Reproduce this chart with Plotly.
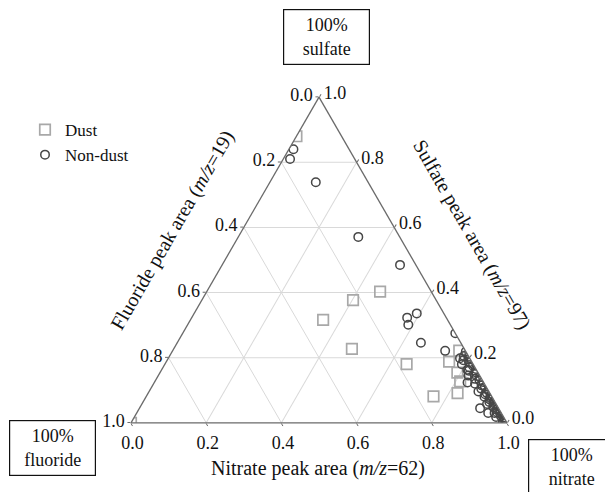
import plotly.graph_objects as go

# ---- data (fractions: sulfate = a, fluoride = b, nitrate = c) ----
dust_sulfate = [0.880, 0.000, 0.403, 0.377, 0.316, 0.227, 0.180, 0.188, 0.222, 0.154, 0.127, 0.081, 0.091]
dust_fluoride = [0.120, 1.000, 0.136, 0.221, 0.331, 0.299, 0.177, 0.060, 0.016, 0.055, 0.061, 0.155, 0.086]
dust_nitrate = [0.000, 0.000, 0.461, 0.402, 0.353, 0.474, 0.643, 0.752, 0.762, 0.791, 0.812, 0.764, 0.823]

nondust_sulfate = [0.840, 0.810, 0.739, 0.571, 0.485, 0.336, 0.323, 0.301, 0.246, 0.275, 0.221, 0.219,
                   0.198, 0.203, 0.163, 0.124, 0.045, 0.030,
                   0.205, 0.198, 0.192, 0.186, 0.180, 0.175, 0.170, 0.165, 0.160, 0.155, 0.150, 0.145,
                   0.140, 0.135, 0.130, 0.125, 0.120, 0.115, 0.110, 0.105, 0.100, 0.096, 0.092, 0.088,
                   0.084, 0.080, 0.076, 0.072, 0.068, 0.064, 0.060, 0.056, 0.052, 0.048, 0.044, 0.040,
                   0.036, 0.032, 0.028, 0.024, 0.020, 0.016, 0.012, 0.008, 0.004, 0.000, 0.002, 0.018,
                   0.030, 0.058]
nondust_fluoride = [0.148, 0.172, 0.139, 0.110, 0.042, 0.072, 0.104, 0.112, 0.106, 0.000, 0.054, 0.000,
                    0.026, 0.000, 0.024, 0.043, 0.049, 0.035,
                    0.012, 0.000, 0.020, 0.008, 0.030, 0.003, 0.015, 0.000, 0.022, 0.006, 0.012, 0.030,
                    0.002, 0.018, 0.008, 0.000, 0.025, 0.010, 0.004, 0.016, 0.000, 0.028, 0.008, 0.014,
                    0.002, 0.020, 0.006, 0.010, 0.000, 0.015, 0.004, 0.008, 0.000, 0.012, 0.003, 0.007,
                    0.000, 0.010, 0.004, 0.000, 0.006, 0.002, 0.000, 0.004, 0.000, 0.002, 0.010, 0.020,
                    0.018, 0.024]
nondust_nitrate = [0.012, 0.018, 0.122, 0.319, 0.473, 0.592, 0.573, 0.587, 0.648, 0.725, 0.725, 0.781,
                   0.776, 0.797, 0.813, 0.833, 0.906, 0.935,
                   0.783, 0.802, 0.788, 0.806, 0.790, 0.822, 0.815, 0.835, 0.818, 0.839, 0.838, 0.825,
                   0.858, 0.847, 0.862, 0.875, 0.855, 0.875, 0.886, 0.879, 0.900, 0.876, 0.900, 0.898,
                   0.914, 0.900, 0.918, 0.918, 0.932, 0.921, 0.936, 0.936, 0.948, 0.940, 0.953, 0.953,
                   0.964, 0.958, 0.968, 0.976, 0.974, 0.982, 0.988, 0.988, 0.996, 0.998, 0.988, 0.962,
                   0.952, 0.918]

tick_vals = [0.0, 0.2, 0.4, 0.6, 0.8, 1.0]
tick_text_rev = ["1.0", "0.8", "0.6", "0.4", "0.2", "0.0"]

FONT = "Liberation Serif"
AX_COLOR = "#6a6a6a"
GRID_COLOR = "#d9d9d9"

fig = go.Figure()
fig.add_trace(go.Scatterternary(
    a=dust_sulfate, b=dust_fluoride, c=dust_nitrate,
    mode="markers", name="Dust",
    marker=dict(symbol="square-open", size=10.5, color="#a8a8a8", line=dict(width=1.7)),
))
fig.add_trace(go.Scatterternary(
    a=nondust_sulfate, b=nondust_fluoride, c=nondust_nitrate,
    mode="markers", name="Non-dust",
    marker=dict(symbol="circle-open", size=8.5, color="#474747", line=dict(width=1.5)),
))

axis_common = dict(
    tickmode="array", tickvals=tick_vals, ticktext=tick_text_rev,
    ticks="outside", ticklen=3, tickcolor=AX_COLOR,
    linecolor=AX_COLOR, linewidth=1.3, showline=True,
    gridcolor=GRID_COLOR, gridwidth=1, showgrid=True,
    tickfont=dict(family=FONT, size=18, color="#111"),
    title=dict(text=""), min=0,
)

W, H = 605, 492
fig.update_layout(
    width=W, height=H,
    margin=dict(l=0, r=0, t=0, b=0),
    paper_bgcolor="white",
    font=dict(family=FONT, color="#111"),
    ternary=dict(
        sum=1,
        bgcolor="white",
        domain=dict(x=[131 / W, 507 / W], y=[1 - 423 / H, 1 - 97 / H]),
        aaxis=axis_common,
        baxis=axis_common,
        caxis=axis_common,
    ),
    legend=dict(
        x=25 / W, y=1 - 112 / H, xanchor="left", yanchor="top",
        font=dict(family=FONT, size=17, color="#111"),
        bgcolor="rgba(0,0,0,0)", itemwidth=30, tracegroupgap=0,
    ),
    showlegend=True,
)

ann = [
    dict(x=318 / W, y=1 - 468 / H, text="Nitrate peak area (<i>m/z</i>=62)", textangle=0, size=20),
    dict(x=172 / W, y=1 - 230 / H, text="Fluoride peak area (<i>m/z</i>=19)", textangle=-60, size=20),
    dict(x=472 / W, y=1 - 234 / H, text="Sulfate peak area (<i>m/z</i>=97)", textangle=60, size=20),
]
annotations = []
for a in ann:
    annotations.append(dict(
        x=a["x"], y=a["y"], xref="paper", yref="paper", text=a["text"],
        textangle=a["textangle"], showarrow=False,
        font=dict(family=FONT, size=a["size"], color="#111"),
        xanchor="center", yanchor="middle",
    ))

boxes = [
    (326, 37.5, "100%<br>sulfate"),
    (52.5, 448, "100%<br>fluoride"),
    (571.5, 466.5, "100%<br>nitrate"),
]
for bx, by, txt in boxes:
    annotations.append(dict(
        x=bx / W, y=1 - by / H, xref="paper", yref="paper", text=txt,
        showarrow=False, font=dict(family=FONT, size=18, color="#111"),
        bordercolor="#111", borderwidth=1.2, borderpad=3, bgcolor="white",
        xanchor="center", yanchor="middle", width=79, height=48, align="center",
    ))

fig.update_layout(annotations=annotations)
fig.write_html(
    "out.html",
    config={"displayModeBar": False},
    post_script="document.body.style.margin='0';document.body.style.overflow='hidden';",
)
